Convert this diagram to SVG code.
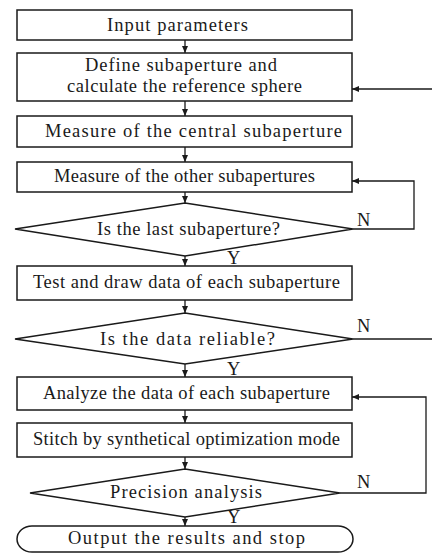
<svg xmlns="http://www.w3.org/2000/svg" width="432" height="556" viewBox="0 0 432 556">
<defs>
<marker id="ah" markerWidth="8" markerHeight="8" refX="7" refY="4" orient="auto" markerUnits="userSpaceOnUse">
<path d="M0,1 L7,4 L0,7 Z" fill="#1a1a1a"/>
</marker>
<style>
.b{fill:#fff;stroke:#1a1a1a;stroke-width:1.5}
.c{fill:none;stroke:#1a1a1a;stroke-width:1.3}
text{font-family:'Liberation Serif','Times New Roman',serif;font-size:18.5px;fill:#1a1a1a}
</style>
</defs>
<rect width="432" height="556" fill="#fff"/>
<g id="connectors">
<line class="c" x1="185" y1="40" x2="185" y2="53" marker-end="url(#ah)"/>
<line class="c" x1="185" y1="101" x2="185" y2="116" marker-end="url(#ah)"/>
<line class="c" x1="185" y1="147" x2="185" y2="162" marker-end="url(#ah)"/>
<line class="c" x1="185" y1="192" x2="185" y2="203" marker-end="url(#ah)"/>
<line class="c" x1="185" y1="256" x2="185" y2="266" marker-end="url(#ah)"/>
<line class="c" x1="185" y1="300" x2="185" y2="313" marker-end="url(#ah)"/>
<line class="c" x1="185" y1="364" x2="185" y2="377" marker-end="url(#ah)"/>
<line class="c" x1="185" y1="410" x2="185" y2="423" marker-end="url(#ah)"/>
<line class="c" x1="185" y1="457" x2="185" y2="469" marker-end="url(#ah)"/>
<line class="c" x1="185" y1="517" x2="185" y2="526" marker-end="url(#ah)"/>
<polyline class="c" points="353,229 414,229 414,181 352,181" marker-end="url(#ah)"/>
<line class="c" x1="353" y1="339" x2="432" y2="339"/>
<line class="c" x1="432" y1="89" x2="352" y2="89" marker-end="url(#ah)"/>
<polyline class="c" points="340,493 426,493 426,397 352,397" marker-end="url(#ah)"/>
<text x="357" y="226">N</text>
<text x="227" y="264">Y</text>
<text x="357" y="332">N</text>
<text x="227" y="375">Y</text>
<text x="357" y="488">N</text>
<text x="227" y="523">Y</text>
</g>
<g id="n1"><rect class="b" x="17" y="10" width="335" height="30"/><text x="107" y="31" textLength="141" lengthAdjust="spacing">Input parameters</text></g>
<g id="n2"><rect class="b" x="17" y="53" width="335" height="48"/><text x="85" y="71" textLength="192" lengthAdjust="spacing">Define subaperture and</text><text x="67" y="92" textLength="235" lengthAdjust="spacing">calculate the reference sphere</text></g>
<g id="n3"><rect class="b" x="17" y="116" width="335" height="31"/><text x="45" y="137" textLength="297" lengthAdjust="spacing">Measure of the central subaperture</text></g>
<g id="n4"><rect class="b" x="17" y="162" width="335" height="30"/><text x="54" y="182" textLength="261" lengthAdjust="spacing">Measure of the other subapertures</text></g>
<g id="n5"><polygon class="b" points="185,203 353,229 185,256 15,229"/><text x="97" y="235" textLength="183" lengthAdjust="spacing">Is the last subaperture?</text></g>
<g id="n6"><rect class="b" x="17" y="266" width="335" height="34"/><text x="33" y="288" textLength="307" lengthAdjust="spacing">Test and draw data of each subaperture</text></g>
<g id="n7"><polygon class="b" points="185,313 353,339 185,364 15,339"/><text x="100" y="345" textLength="175" lengthAdjust="spacing">Is the data reliable?</text></g>
<g id="n8"><rect class="b" x="17" y="377" width="335" height="33"/><text x="43" y="399" textLength="287" lengthAdjust="spacing">Analyze the data of each subaperture</text></g>
<g id="n9"><rect class="b" x="17" y="423" width="335" height="34"/><text x="33" y="445" textLength="307" lengthAdjust="spacing">Stitch by synthetical optimization mode</text></g>
<g id="n10"><polygon class="b" points="185,469 340,493 185,517 30,493"/><text x="110" y="498" textLength="152" lengthAdjust="spacing">Precision analysis</text></g>
<g id="n11"><path class="b" d="M32,526 H338 A15,13 0 0 1 338,552 H32 A15,13 0 0 1 32,526 Z"/><text x="68" y="544" textLength="237" lengthAdjust="spacing">Output the results and stop</text></g>
</svg>
